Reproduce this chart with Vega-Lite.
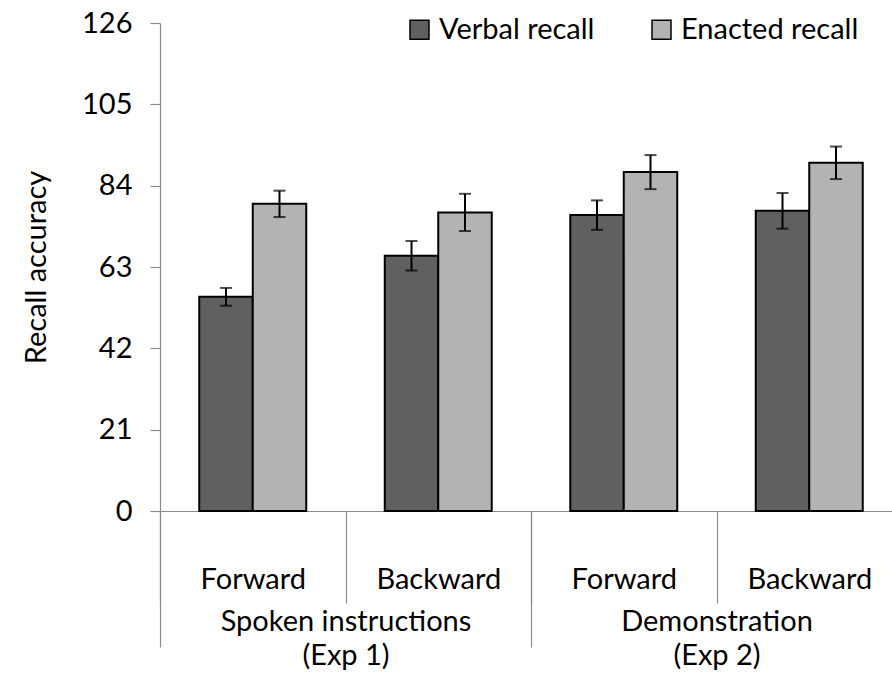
{
  "$schema": "https://vega.github.io/schema/vega-lite/v6.json",
  "autosize": {"type": "none"},
  "width": 732,
  "height": 488,
  "padding": {"left": 160, "top": 23, "right": 0, "bottom": 162},
  "background": "white",
  "config": {
    "font": "Lato",
    "view": {"stroke": null},
    "axis": {"labelFont": "Lato", "titleFont": "Lato", "labelColor": "black", "titleColor": "black", "domainColor": "#8c8c8c", "tickColor": "#8c8c8c", "domainWidth": 1.2, "tickWidth": 1.2, "grid": false, "labelLimit": 0}
  },
  "data": {
    "values": [
      {"exp": "Spoken instructions|(Exp 1)", "cond": "S|Forward", "recall": "Verbal recall", "value": 55.3, "lo": 53.0, "hi": 57.6},
      {"exp": "Spoken instructions|(Exp 1)", "cond": "S|Forward", "recall": "Enacted recall", "value": 79.3, "lo": 75.9, "hi": 82.7},
      {"exp": "Spoken instructions|(Exp 1)", "cond": "S|Backward", "recall": "Verbal recall", "value": 65.9, "lo": 62.1, "hi": 69.7},
      {"exp": "Spoken instructions|(Exp 1)", "cond": "S|Backward", "recall": "Enacted recall", "value": 77.1, "lo": 72.3, "hi": 81.9},
      {"exp": "Demonstration|(Exp 2)", "cond": "D|Forward", "recall": "Verbal recall", "value": 76.4, "lo": 72.6, "hi": 80.2},
      {"exp": "Demonstration|(Exp 2)", "cond": "D|Forward", "recall": "Enacted recall", "value": 87.5, "lo": 83.1, "hi": 91.9},
      {"exp": "Demonstration|(Exp 2)", "cond": "D|Backward", "recall": "Verbal recall", "value": 77.5, "lo": 72.9, "hi": 82.1},
      {"exp": "Demonstration|(Exp 2)", "cond": "D|Backward", "recall": "Enacted recall", "value": 89.9, "lo": 85.7, "hi": 94.1}
    ]
  },
  "layer": [
    {
      "encoding": {
        "x": {
          "field": "cond", "type": "nominal",
          "sort": ["S|Forward", "S|Backward", "D|Forward", "D|Backward"],
          "scale": {"range": [0, 742], "paddingInner": 0, "paddingOuter": 0},
          "axis": {
            "title": null, "orient": "bottom", "tickBand": "extent", "tickSize": 92,
            "labelAngle": 0, "labelFontSize": 29, "labelPadding": -38,
            "labelExpr": "isValid(datum.value) ? split(datum.value, '|')[1] : ''"
          }
        },
        "xOffset": {
          "field": "recall", "type": "nominal",
          "sort": ["Verbal recall", "Enacted recall"],
          "scale": {"paddingInner": 0, "paddingOuter": 0.734}
        }
      },
      "layer": [
        {
          "mark": {"type": "bar", "stroke": "black", "strokeWidth": 2},
          "encoding": {
            "y": {
              "field": "value", "type": "quantitative",
              "scale": {"domain": [0, 126], "nice": false},
              "axis": {
                "values": [0, 21, 42, 63, 84, 105, 126],
                "title": "Recall accuracy", "titleFontSize": 29, "titleFontWeight": "normal",
                "titlePadding": 30, "labelFontSize": 29, "labelPadding": 18, "tickSize": 10
              }
            },
            "fill": {
              "field": "recall", "type": "nominal",
              "sort": ["Verbal recall", "Enacted recall"],
              "scale": {"range": ["#606060", "#b3b3b3"]},
              "legend": {
                "title": null, "orient": "none", "direction": "horizontal",
                "legendX": 245, "legendY": -8,
                "symbolType": "square", "symbolSize": 361,
                "symbolStrokeColor": "black", "symbolStrokeWidth": 1.5,
                "labelFontSize": 29, "labelFont": "Lato", "labelColor": "black", "labelLimit": 0,
                "labelOffset": 5, "columnPadding": 52
              }
            }
          }
        },
        {
          "mark": {"type": "rule", "color": "black", "strokeWidth": 2},
          "encoding": {
            "y": {"field": "lo", "type": "quantitative"},
            "y2": {"field": "hi"}
          }
        },
        {
          "mark": {"type": "tick", "color": "black", "thickness": 2, "size": 12},
          "encoding": {"y": {"field": "lo", "type": "quantitative"}}
        },
        {
          "mark": {"type": "tick", "color": "black", "thickness": 2, "size": 12},
          "encoding": {"y": {"field": "hi", "type": "quantitative"}}
        }
      ]
    },
    {
      "mark": {"type": "rule", "opacity": 0},
      "encoding": {
        "x": {
          "field": "exp", "type": "nominal",
          "sort": ["Spoken instructions|(Exp 1)", "Demonstration|(Exp 2)"],
          "scale": {"range": [0, 742], "paddingInner": 0, "paddingOuter": 0},
          "axis": {
            "title": null, "orient": "bottom", "tickBand": "extent", "tickSize": 136,
            "labelAngle": 0, "labelFontSize": 29, "labelPadding": -40, "labelLineHeight": 34,
            "labelExpr": "isValid(datum.value) ? split(datum.value, '|') : ''"
          }
        }
      }
    }
  ],
  "resolve": {"scale": {"x": "independent"}, "axis": {"x": "independent"}}
}
